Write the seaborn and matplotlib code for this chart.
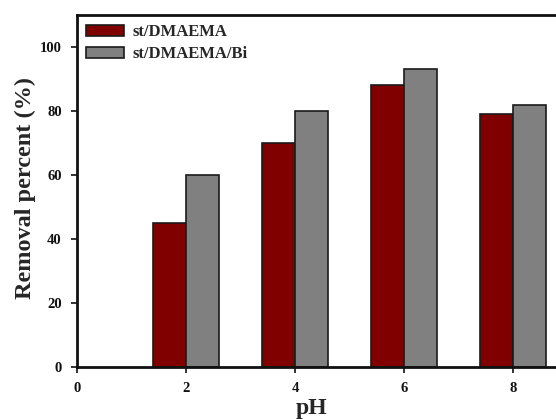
import matplotlib
matplotlib.use("Agg")
import matplotlib.pyplot as plt
import seaborn as sns
import pandas as pd

# Removal percent at each pH for the two adsorbents
ph_values = [2, 4, 6, 8]
series_names = ["st/DMAEMA", "st/DMAEMA/Bi"]
removal_dmaema = [45, 70, 88, 79]
removal_dmaema_bi = [60, 80, 93, 82]
x_ticks = [0, 2, 4, 6, 8]
y_ticks = [0, 20, 40, 60, 80, 100]

df = pd.DataFrame({
    "pH": ph_values * 2,
    "removal": removal_dmaema + removal_dmaema_bi,
    "sample": [series_names[0]] * len(ph_values) + [series_names[1]] * len(ph_values),
})

sns.set_style("ticks")
plt.rcParams["font.family"] = ["Liberation Serif", "DejaVu Serif"]
plt.rcParams["font.weight"] = "bold"

W, H = 556, 419
fig = plt.figure(figsize=(W / 100, H / 100), dpi=100)
# axes run past the right edge of the figure, so no right spine is shown
ax = fig.add_axes([77 / W, 52 / H, 490.5 / W, 352 / H])

sns.barplot(
    data=df, x="pH", y="removal", hue="sample", hue_order=series_names,
    palette=["#800000", "#808080"], native_scale=True, width=0.6, gap=0,
    edgecolor="#1a1a1a", linewidth=1.2, saturation=1, ax=ax, errorbar=None,
)

ax.set_xlim(0, 9)
ax.set_ylim(0, 110)
ax.set_xticks(x_ticks)
ax.set_yticks(y_ticks)
ax.tick_params(axis="both", direction="out", length=4, width=1.2,
               labelsize=10.5, colors="#111111")
ax.tick_params(axis="y", pad=7)
ax.tick_params(axis="x", pad=7)
for lbl in ax.get_xticklabels() + ax.get_yticklabels():
    lbl.set_fontweight("bold")
for sp in ax.spines.values():
    sp.set_linewidth(2.0)
    sp.set_color("#111111")

ax.set_xlabel("pH", fontsize=17, fontweight="bold")
ax.set_ylabel("Removal percent (%)", fontsize=17.5, fontweight="bold")
ax.xaxis.set_label_coords(0.478, -0.088)
ax.yaxis.set_label_coords(-0.084, 0.508)

leg = ax.legend(
    loc="upper left", frameon=False, handlelength=2.25,
    handleheight=0.65, borderaxespad=0.25, borderpad=0.3,
    labelspacing=0.35, handletextpad=0.55,
    prop={"weight": "bold", "size": 12},
)

fig.savefig("out.png", dpi=100)
